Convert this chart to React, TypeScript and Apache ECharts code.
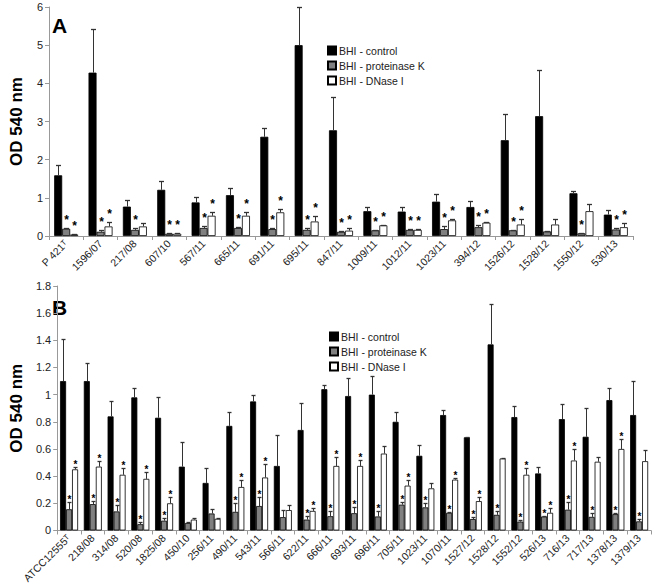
import React, { useEffect, useRef } from 'react';
import * as echarts from 'echarts';

const seriesNames = ['BHI - control', 'BHI - proteinase K', 'BHI - DNase I'];

// Panel A
const catsA = ['P 421ᵀ', '1596/07', '217/08', '607/10', '567/11', '665/11', '691/11', '695/11', '847/11', '1009/11', '1012/11', '1023/11', '394/12', '1526/12', '1528/12', '1550/12', '530/13'];
const ctrlA = [1.59, 4.28, 0.77, 1.21, 0.88, 1.07, 2.6, 5.0, 2.77, 0.65, 0.64, 0.9, 0.76, 2.51, 3.14, 1.12, 0.56];
const ctrlErrA = [0.28, 1.14, 0.18, 0.22, 0.13, 0.19, 0.22, 1.0, 0.88, 0.11, 0.12, 0.19, 0.16, 0.68, 1.2, 0.06, 0.13];
const pkA = [0.19, 0.11, 0.16, 0.06, 0.21, 0.21, 0.18, 0.16, 0.11, 0.15, 0.16, 0.18, 0.23, 0.15, 0.12, 0.07, 0.17];
const pkErrA = [0.02, 0.05, 0.04, 0.01, 0.04, 0.03, 0.03, 0.04, 0.02, 0.02, 0.02, 0.07, 0.07, 0.02, 0.01, 0.02, 0.03];
const dnA = [0.04, 0.25, 0.25, 0.06, 0.53, 0.53, 0.62, 0.38, 0.14, 0.28, 0.16, 0.41, 0.35, 0.3, 0.3, 0.65, 0.23];
const dnErrA = [0.01, 0.12, 0.08, 0.01, 0.11, 0.11, 0.1, 0.15, 0.06, 0.02, 0.03, 0.04, 0.02, 0.14, 0.14, 0.19, 0.11];
const pkStarA = [1, 1, 1, 1, 1, 1, 1, 1, 1, 1, 1, 1, 1, 1, 0, 1, 1];
const dnStarA = [1, 1, 0, 1, 1, 1, 1, 1, 1, 1, 1, 1, 1, 1, 0, 0, 1];
const yTicksA = { min: 0, max: 6, interval: 1 };

// Panel B
const catsB = ['ATCC12555ᵀ', '218/08', '314/08', '520/08', '1825/08', '450/10', '256/11', '490/11', '543/11', '566/11', '622/11', '666/11', '693/11', '696/11', '705/11', '1023/11', '1070/11', '1527/12', '1528/12', '1552/12', '526/13', '716/13', '717/13', '1378/13', '1379/13'];
const ctrlB = [1.10, 1.10, 0.84, 0.98, 0.83, 0.47, 0.35, 0.77, 0.95, 0.475, 0.74, 1.04, 0.99, 1.0, 0.80, 0.55, 0.85, 0.686, 1.37, 0.835, 0.42, 0.82, 0.69, 0.96, 0.85];
const ctrlErrB = [0.31, 0.13, 0.11, 0.07, 0.15, 0.18, 0.11, 0.10, 0.05, 0.225, 0.20, 0.03, 0.13, 0.14, 0.075, 0.08, 0.04, 0.003, 0.30, 0.085, 0.05, 0.11, 0.21, 0.09, 0.25];
const pkB = [0.156, 0.194, 0.14, 0.046, 0.072, 0.055, 0.125, 0.137, 0.18, 0.098, 0.08, 0.105, 0.127, 0.103, 0.19, 0.17, 0.13, 0.084, 0.115, 0.065, 0.103, 0.153, 0.10, 0.12, 0.067];
const pkErrB = [0.05, 0.026, 0.05, 0.014, 0.018, 0.004, 0.035, 0.063, 0.07, 0.052, 0.025, 0.035, 0.043, 0.037, 0.02, 0.03, 0.007, 0.016, 0.029, 0.015, 0.004, 0.053, 0.03, 0.008, 0.019];
const dnB = [0.45, 0.47, 0.41, 0.38, 0.20, 0.08, 0.086, 0.32, 0.39, 0.15, 0.144, 0.475, 0.475, 0.566, 0.33, 0.31, 0.374, 0.216, 0.53, 0.41, 0.13, 0.515, 0.506, 0.60, 0.51];
const dnErrB = [0.02, 0.04, 0.05, 0.05, 0.05, 0.01, 0.004, 0.05, 0.10, 0.04, 0.021, 0.065, 0.045, 0.054, 0.04, 0.04, 0.012, 0.034, 0.003, 0.05, 0.035, 0.085, 0.034, 0.07, 0.08];
const pkStarB = [1, 1, 1, 1, 1, 0, 0, 1, 1, 0, 1, 1, 1, 1, 1, 1, 1, 1, 1, 1, 1, 1, 1, 1, 1];
const dnStarB = [1, 1, 1, 1, 1, 0, 0, 1, 1, 0, 1, 1, 1, 0, 1, 0, 1, 1, 0, 1, 1, 1, 0, 1, 0];
const yTicksB = { min: 0, max: 1.8, interval: 0.2 };

const FONT = 'Liberation Sans, Arial, sans-serif';
const colors = ['#000000', '#808080', '#ffffff'];

function errSeries(axisIdx: number, vals: number[], errs: number[], stars: number[] | null, offset: number, cap: number, starSize: number, starShift: number) {
  const data = vals.map((v, i) => [i, v, v + errs[i], stars ? stars[i] : 0]);
  return {
    type: 'custom',
    xAxisIndex: axisIdx,
    yAxisIndex: axisIdx,
    z: 5,
    silent: true,
    encode: { x: 0, y: 2 },
    data,
    renderItem: (params: any, api: any) => {
      const i = api.value(0);
      const v = api.value(1);
      const t = api.value(2);
      const s = api.value(3);
      const pb = api.coord([i, v]);
      const pt = api.coord([i, t]);
      const x = Math.round(pb[0] + offset) + 0.5;
      const yt = Math.round(pt[1]) + 0.5;
      const children: any[] = [
        { type: 'line', shape: { x1: x, y1: pb[1], x2: x, y2: yt }, style: { stroke: '#333', lineWidth: 1 } },
        { type: 'line', shape: { x1: x - cap, y1: yt, x2: x + cap, y2: yt }, style: { stroke: '#333', lineWidth: 1.3 } },
      ];
      if (s) {
        children.push({
          type: 'text',
          style: { text: '*', x, y: yt + starShift, align: 'center', verticalAlign: 'bottom', font: `bold ${starSize}px ${FONT}`, fill: '#000' },
        });
      }
      return { type: 'group', children };
    },
  };
}

function barSeries(axisIdx: number, name: string, vals: number[], color: string, width: number) {
  return {
    type: 'bar',
    name,
    xAxisIndex: axisIdx,
    yAxisIndex: axisIdx,
    data: vals,
    barWidth: width,
    barGap: '0%',
    itemStyle: { color, borderColor: '#000', borderWidth: 0.8 },
    emphasis: { disabled: true },
  };
}

function xAxis(idx: number, cats: string[]) {
  return {
    type: 'category',
    gridIndex: idx,
    data: cats,
    axisLine: { lineStyle: { color: '#999', width: 1 } },
    axisTick: { show: true, interval: 0, length: 4, lineStyle: { color: '#999' } },
    axisLabel: { interval: 0, rotate: 45, fontSize: 10.5, fontFamily: FONT, color: '#222', margin: 6 },
  };
}

function yAxis(idx: number, t: { min: number; max: number; interval: number }) {
  return {
    type: 'value',
    gridIndex: idx,
    min: t.min,
    max: t.max,
    interval: t.interval,
    name: 'OD 540 nm',
    nameLocation: 'middle',
    nameGap: 24,
    nameTextStyle: { fontSize: 17, fontWeight: 'bold', fontFamily: FONT, color: '#000' },
    splitLine: { show: false },
    axisLine: { show: true, lineStyle: { color: '#999', width: 1 } },
    axisTick: { show: true, length: 4, lineStyle: { color: '#999' } },
    axisLabel: { fontSize: 11, fontFamily: FONT, color: '#222', margin: 6 },
  };
}

export default function App() {
  const ref = useRef<HTMLDivElement>(null);
  useEffect(() => {
    if (!ref.current) return;
    const chart = echarts.init(ref.current, null, { renderer: 'svg' });
    const legendBase = {
      orient: 'vertical',
      icon: 'rect',
      itemWidth: 8,
      itemHeight: 8,
      itemGap: 4,
      selectedMode: false,
      textStyle: { fontSize: 10.5, fontFamily: FONT, color: '#222', padding: [0, 0, 0, -2] },
      data: seriesNames,
    };
    chart.setOption({
      animation: false,
      backgroundColor: '#fff',
      grid: [
        { left: 38, top: 7, width: 595, height: 229 },
        { left: 38, top: 286, width: 613, height: 251 },
      ],
      legend: [
        { ...legendBase, left: 322, top: 40 },
        { ...legendBase, left: 324, top: 326 },
      ],
      xAxis: [xAxis(0, catsA), xAxis(1, catsB)],
      yAxis: [yAxis(0, yTicksA), yAxis(1, yTicksB)],
      graphic: [
        { type: 'text', left: 52, top: 15, style: { text: 'A', font: `bold 21px ${FONT}`, fill: '#000' } },
        { type: 'text', left: 52, top: 297, style: { text: 'B', font: `bold 21px ${FONT}`, fill: '#000' } },
      ],
      series: [
        barSeries(0, seriesNames[0], ctrlA, colors[0], 8),
        barSeries(0, seriesNames[1], pkA, colors[1], 8),
        barSeries(0, seriesNames[2], dnA, colors[2], 8),
        errSeries(0, ctrlA, ctrlErrA, null, -8, 2.5, 12, -2.5),
        errSeries(0, pkA, pkErrA, pkStarA, 0, 2.5, 12, -2.5),
        errSeries(0, dnA, dnErrA, dnStarA, 8, 2.5, 12, -2.5),
        barSeries(1, seriesNames[0], ctrlB, colors[0], 6),
        barSeries(1, seriesNames[1], pkB, colors[1], 6),
        barSeries(1, seriesNames[2], dnB, colors[2], 6),
        errSeries(1, ctrlB, ctrlErrB, null, -6, 2, 10, 2),
        errSeries(1, pkB, pkErrB, pkStarB, 0, 2, 10, 2),
        errSeries(1, dnB, dnErrB, dnStarB, 6, 2, 10, 2),
      ],
    });
    return () => chart.dispose();
  }, []);
  return <div ref={ref} style={{ position: 'absolute', left: 0, top: 0, width: 653, height: 586 }} />;
}
